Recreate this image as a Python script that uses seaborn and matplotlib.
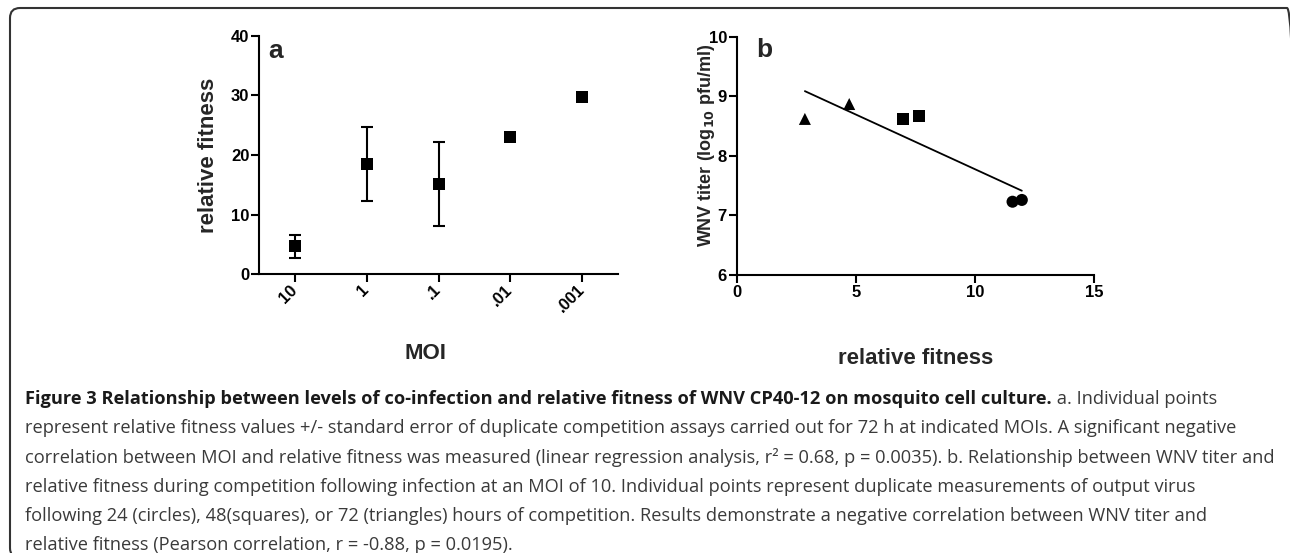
import numpy as np
import pandas as pd
import matplotlib
matplotlib.use("Agg")
import matplotlib.pyplot as plt
import seaborn as sns
from matplotlib.patches import FancyBboxPatch

# panel a: relative fitness at each MOI (mean +/- standard error)
moi_labels = ["10", "1", ".1", ".01", ".001"]
fitness_mean = [4.7, 18.5, 15.1, 23.0, 29.7]
fitness_se = [1.9, 6.2, 7.0, 0.3, 0.3]

# panel b: WNV titer vs relative fitness, by hours of competition
fit_b = [11.57, 11.96, 6.96, 7.66, 2.86, 4.72]
titer_b = [7.23, 7.26, 8.62, 8.67, 8.62, 8.87]
hours_b = [24, 24, 48, 48, 72, 72]

caption_bold = ("Figure 3 Relationship between levels of co-infection and relative "
                "fitness of WNV CP40-12 on mosquito cell culture.")
caption_lines = [
    " a. Individual points",
    "represent relative fitness values +/- standard error of duplicate competition assays carried out for 72 h at indicated MOIs. A significant negative",
    "correlation between MOI and relative fitness was measured (linear regression analysis, r\u00b2 = 0.68, p = 0.0035). b. Relationship between WNV titer and",
    "relative fitness during competition following infection at an MOI of 10. Individual points represent duplicate measurements of output virus",
    "following 24 (circles), 48(squares), or 72 (triangles) hours of competition. Results demonstrate a negative correlation between WNV titer and",
    "relative fitness (Pearson correlation, r = -0.88, p = 0.0195).",
]

sns.set_theme(style="ticks")
plt.rcParams['font.family'] = ['Liberation Sans', 'DejaVu Sans']
plt.rcParams['font.weight'] = 'bold'
plt.rcParams['axes.linewidth'] = 1.5
plt.rcParams['xtick.major.width'] = 1.5
plt.rcParams['ytick.major.width'] = 1.5
plt.rcParams['xtick.major.size'] = 5.5
plt.rcParams['ytick.major.size'] = 5.5
plt.rcParams['xtick.color'] = 'black'
plt.rcParams['ytick.color'] = 'black'
plt.rcParams['axes.edgecolor'] = 'black'

W, H = 1290, 553
fig = plt.figure(figsize=(W / 100, H / 100), dpi=100)

# outer rounded frame
frame = FancyBboxPatch((0.10, -0.05), 12.87, 5.50, boxstyle="round,pad=0,rounding_size=0.1",
                       transform=fig.dpi_scale_trans, fill=False, edgecolor='#333333', lw=1.5)
fig.patches.append(frame)

# ---------- panel a ----------
ax1 = fig.add_axes([259 / W, 1 - 274.3 / H, (618 - 259) / W, (274.3 - 35.7) / H])
sns.scatterplot(x=moi_labels, y=fitness_mean, marker='s', s=70, color='black',
                edgecolor='black', linewidth=0, ax=ax1, zorder=3)
ax1.errorbar(moi_labels, fitness_mean, yerr=fitness_se, fmt='none', ecolor='black',
             elinewidth=1.5, capsize=4.5, capthick=1.5)
ax1.set_xlim(-0.5, 4.5)
ax1.set_ylim(0, 40)
ax1.set_yticks([0, 10, 20, 30, 40])
ax1.tick_params(axis='y', labelsize=12, pad=1.5)
ax1.tick_params(axis='x', labelsize=12, pad=4)
plt.setp(ax1.get_xticklabels(), rotation=45, ha='right', va='center',
         rotation_mode='anchor', fontweight='bold')
plt.setp(ax1.get_yticklabels(), fontweight='bold')
ax1.set_ylabel('relative fitness', fontsize=16, fontweight='bold')
ax1.set_xlabel('MOI', fontsize=16, fontweight='bold')
ax1.yaxis.set_label_coords(-0.112, 0.5)
ax1.xaxis.set_label_coords(0.465, -0.288)
ax1.text(0.025, 0.905, 'a', transform=ax1.transAxes, fontsize=19, fontweight='bold')
sns.despine(ax=ax1)

# ---------- panel b ----------
df_b = pd.DataFrame({'fitness': fit_b, 'titer': titer_b, 'hours': hours_b})
ax2 = fig.add_axes([736.7 / W, 1 - 275 / H, (1094.3 - 736.7) / W, (275 - 36.7) / H])
sns.regplot(data=df_b, x='fitness', y='titer', scatter=False, ci=None, color='black',
            line_kws={'lw': 1.3}, ax=ax2)
sns.scatterplot(data=df_b, x='fitness', y='titer', style='hours',
                markers={24: 'o', 48: 's', 72: '^'}, color='black', edgecolor='black',
                linewidth=0, s=75, legend=False, ax=ax2, zorder=3)
ax2.set_xlim(0, 15)
ax2.set_ylim(6, 10)
ax2.set_xticks([0, 5, 10, 15])
ax2.set_yticks([6, 7, 8, 9, 10])
ax2.tick_params(axis='both', labelsize=12, pad=1.5)
plt.setp(ax2.get_xticklabels() + ax2.get_yticklabels(), fontweight='bold')
ax2.set_ylabel('WNV titer (log$_{\\mathbf{10}}$ pfu/ml)', fontsize=13, fontweight='bold')
ax2.set_xlabel('relative fitness', fontsize=16, fontweight='bold')
ax2.yaxis.set_label_coords(-0.055, 0.545)
ax2.xaxis.set_label_coords(0.5, -0.306)
ax2.text(0.054, 0.915, 'b', transform=ax2.transAxes, fontsize=19, fontweight='bold')
sns.despine(ax=ax2)

# ---------- caption ----------
cap_font = ['Open Sans', 'DejaVu Sans']
fig.canvas.draw()
renderer = fig.canvas.get_renderer()
probe = fig.text(0, 0, caption_lines[2], family=cap_font, fontsize=12, fontweight='normal')
probe_w = probe.get_window_extent(renderer).width
probe.remove()
cap_size = 12 * (1273 - 25) / probe_w

x0 = 25 / W
ys = [399 + 29.2 * i for i in range(6)]
tb = fig.text(x0, 1 - ys[0] / H, caption_bold, family=cap_font, fontsize=cap_size,
              fontweight='bold', color='#1a1a1a', va='center')
fig.canvas.draw()
bx = tb.get_window_extent(renderer).x1 / fig.bbox.width
fig.text(bx, 1 - ys[0] / H, caption_lines[0], family=cap_font, fontsize=cap_size,
         fontweight='normal', color='#3a3a3a', va='center')
for y, line in zip(ys[1:], caption_lines[1:]):
    fig.text(x0, 1 - y / H, line, family=cap_font, fontsize=cap_size,
             fontweight='normal', color='#3a3a3a', va='center')

fig.savefig('out.png', dpi=100)
